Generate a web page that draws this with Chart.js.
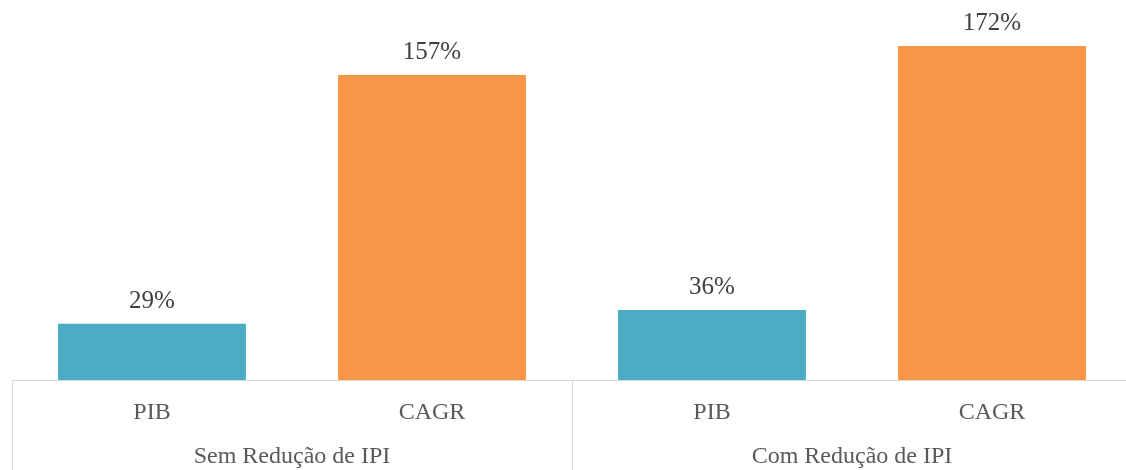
<!DOCTYPE html>
<html>
<head>
<meta charset="utf-8">
<script src="https://cdn.jsdelivr.net/npm/chart.js@4/dist/chart.umd.min.js"></script>
<style>
  html, body { margin: 0; padding: 0; background: #fff; overflow: hidden; }
  #wrap { width: 1132px; height: 470px; }
</style>
</head>
<body>
<div id="wrap"><canvas id="chart"></canvas></div>
<script>
// dados
var categorias = ['PIB', 'CAGR', 'PIB', 'CAGR'];
var grupos     = ['Sem Redução de IPI', 'Com Redução de IPI'];
var valores    = [29, 157, 36, 172];
var cores      = ['#4BACC6', '#F79646', '#4BACC6', '#F79646'];

var serif = '"Liberation Serif", "Times New Roman", serif';

// rotulos de dados em cima das barras
var rotulos = {
  id: 'rotulos',
  afterDatasetsDraw: function (chart) {
    var ctx = chart.ctx;
    var meta = chart.getDatasetMeta(0);
    ctx.save();
    ctx.font = '25px ' + serif;
    ctx.fillStyle = '#404040';
    ctx.textAlign = 'center';
    ctx.textBaseline = 'alphabetic';
    meta.data.forEach(function (bar, i) {
      ctx.fillText(valores[i] + '%', bar.x, bar.y - 16);
    });
    ctx.restore();
  }
};

// linhas verticais que separam os grupos no eixo
var separadores = {
  id: 'separadores',
  afterDraw: function (chart) {
    var ctx = chart.ctx;
    var xs = chart.scales.x;
    var meio = (xs.getPixelForValue(1) + xs.getPixelForValue(2)) / 2;
    ctx.save();
    ctx.strokeStyle = '#D9D9D9';
    ctx.lineWidth = 1;
    [xs.left, meio, xs.right].forEach(function (px) {
      px = Math.round(px) + 0.5;
      ctx.beginPath();
      ctx.moveTo(px, chart.chartArea.bottom);
      ctx.lineTo(px, chart.height);
      ctx.stroke();
    });
    ctx.restore();
  }
};

new Chart(document.getElementById('chart'), {
  type: 'bar',
  data: {
    labels: categorias,
    datasets: [{
      data: valores,
      backgroundColor: cores,
      borderWidth: 0,
      categoryPercentage: 1,
      barPercentage: 0.671
    }]
  },
  options: {
    responsive: true,
    maintainAspectRatio: false,
    animation: false,
    layout: { padding: { top: 11, left: 12, right: 0, bottom: 0 } },
    plugins: {
      legend: { display: false },
      tooltip: { enabled: false }
    },
    scales: {
      y: {
        display: false,
        min: 0,
        max: 190
      },
      x: {
        weight: 0,
        grid: { display: false, drawTicks: false },
        border: { display: true, color: '#D9D9D9', width: 1 },
        ticks: {
          color: '#595959',
          padding: 21,
          maxRotation: 0,
          font: { family: serif, size: 24, lineHeight: 1 }
        },
        afterFit: function (scale) { scale.height = 42; }
      },
      x2: {
        type: 'category',
        position: 'bottom',
        weight: 1,
        labels: grupos,
        offset: true,
        grid: { display: false, drawTicks: false },
        border: { display: false },
        ticks: {
          color: '#595959',
          padding: 23,
          maxRotation: 0,
          font: { family: serif, size: 24, lineHeight: 1 }
        },
        afterFit: function (scale) { scale.height = 48; }
      }
    }
  },
  plugins: [rotulos, separadores]
});
</script>
</body>
</html>
